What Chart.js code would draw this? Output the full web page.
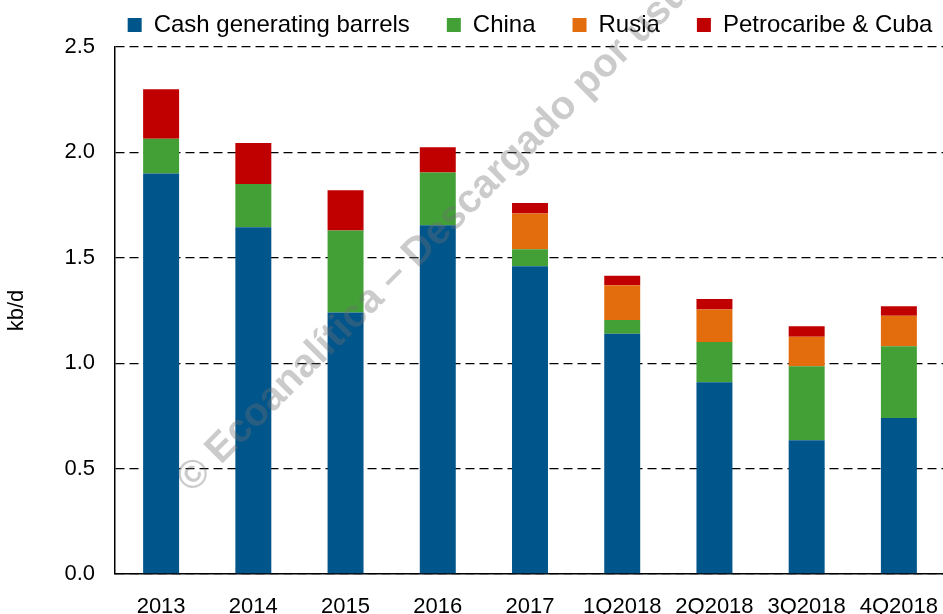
<!DOCTYPE html>
<html>
<head>
<meta charset="utf-8">
<script src="https://cdn.jsdelivr.net/npm/chart.js@4.4.1/dist/chart.umd.min.js"></script>
<style>
  html, body { margin: 0; padding: 0; background: #fff; overflow: hidden; }
  #wrap { width: 1010px; height: 614px; }
</style>
</head>
<body>
<div id="wrap"><canvas id="chart"></canvas></div>
<script>
// categories and series (kb/d)
const periods = ["2013", "2014", "2015", "2016", "2017", "1Q2018", "2Q2018", "3Q2018", "4Q2018"];
const cashBarrels = [1.90, 1.645, 1.24, 1.655, 1.46, 1.14, 0.91, 0.635, 0.74];
const china = [0.165, 0.205, 0.39, 0.25, 0.08, 0.065, 0.19, 0.35, 0.34];
const rusia = [0, 0, 0, 0, 0.17, 0.165, 0.155, 0.14, 0.145];
const petrocaribe = [0.235, 0.195, 0.19, 0.12, 0.05, 0.045, 0.05, 0.05, 0.045];
const yTicks = [0, 0.5, 1.0, 1.5, 2.0, 2.5];

const watermarkText = "© Ecoanalítica – Descargado por usuario";

Chart.defaults.font.family = "'Liberation Sans', Arial, sans-serif";
Chart.defaults.color = "#000";

// Draw the diagonal watermark over the bars
const watermark = {
    id: "watermark",
    afterDatasetsDraw(chart) {
        const ctx = chart.ctx;
        ctx.save();
        ctx.translate(192, 494);
        ctx.rotate(-45 * Math.PI / 180);
        ctx.font = "bold 40px 'Liberation Sans', Arial, sans-serif";
        ctx.fillStyle = "rgba(110, 110, 110, 0.36)";
        ctx.textBaseline = "alphabetic";
        ctx.fillText(watermarkText, 0, 0);
        ctx.restore();
    },
};

const makeSet = (label, data, color) => ({
    label: label,
    data: data,
    backgroundColor: color,
    borderWidth: 0,
    barPercentage: 0.39,
    categoryPercentage: 1.0,
    yAxisID: "y",
});

new Chart(document.getElementById("chart"), {
    type: "bar",
    data: {
        labels: periods,
        datasets: [
            makeSet("Cash generating barrels", cashBarrels, "#00558B"),
            makeSet("China", china, "#43A037"),
            makeSet("Rusia", rusia, "#E36C0C"),
            makeSet("Petrocaribe & Cuba", petrocaribe, "#C00000"),
        ],
    },
    options: {
        responsive: true,
        maintainAspectRatio: false,
        animation: false,
        layout: { padding: { top: -24, right: 5, bottom: 0, left: 55 } },
        plugins: {
            tooltip: { enabled: false },
            legend: {
                position: "top",
                labels: {
                    boxWidth: 14,
                    boxHeight: 14,
                    padding: 37,
                    font: { size: 24 },
                    color: "#000",
                },
            },
        },
        scales: {
            x: {
                stacked: true,
                grid: { display: false, drawTicks: false },
                border: { display: true, color: "#000", width: 1.5 },
                ticks: { font: { size: 22 }, padding: 20, maxRotation: 0, autoSkip: false },
                afterFit(scale) { scale.height = 40; },
            },
            y: {
                stacked: true,
                min: 0,
                max: 2.5,
                afterBuildTicks(scale) { scale.ticks = yTicks.map((v) => ({ value: v })); },
                grid: {
                    color: "#000",
                    lineWidth: 1.3,
                    drawTicks: false,
                },
                border: { display: true, color: "#000", width: 1.5, dash: [9, 5] },
                ticks: {
                    font: { size: 22 },
                    padding: 20,
                    callback: (v) => Number(v).toFixed(1),
                },
                title: {
                    display: true,
                    text: "kb/d",
                    font: { size: 22 },
                    padding: { top: -51, bottom: 0 },
                },
                afterFit(scale) { scale.width = 60; },
            },
            // empty strip on the right so the plot ends past the window edge
            yRight: {
                position: "right",
                display: true,
                grid: { display: false, drawTicks: false },
                border: { display: false },
                ticks: { display: false },
                afterFit(scale) { scale.width = 60; },
            },
        },
    },
    plugins: [watermark],
});
</script>
</body>
</html>
